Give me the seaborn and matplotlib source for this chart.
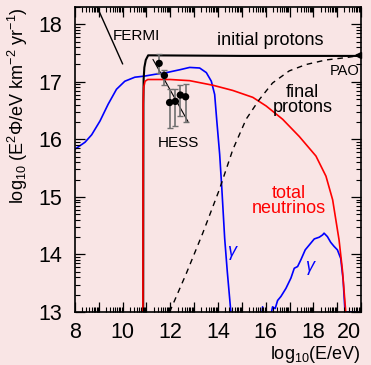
import numpy as np
import seaborn as sns
import matplotlib.pyplot as plt
from matplotlib.collections import LineCollection
from matplotlib.ticker import FixedLocator, FuncFormatter

# ---- data (log10 E/eV , log10 E^2 Phi) ----
gamma_low_x = [8.0, 8.42, 8.70, 9.05, 9.39, 9.74, 10.09, 10.51, 10.93, 11.35, 11.84, 12.40,
               12.81, 13.23, 13.51, 13.72, 13.86, 13.95, 14.07, 14.16, 14.28, 14.39, 14.55,
               14.62]
gamma_low_y = [15.83, 15.95, 16.08, 16.32, 16.61, 16.87, 17.01, 17.08, 17.10, 17.13, 17.16,
               17.21, 17.25, 17.24, 17.16, 17.01, 16.78, 16.32, 15.74, 15.15, 14.28, 13.70,
               12.95, 12.6]

gamma_high_x = [15.80, 15.87, 15.93, 16.22, 16.29, 16.40, 16.50, 16.64, 16.85, 17.06, 17.20,
                17.34, 17.48, 17.66, 17.90, 18.04, 18.25, 18.39, 18.45, 18.59, 18.73,
                18.87, 19.01, 19.15, 19.25, 19.33, 20.0]
gamma_high_y = [12.7, 13.09, 12.95, 12.95, 13.09, 13.06, 13.20, 13.27, 13.41, 13.59, 13.76,
                13.79, 13.91, 14.08, 14.20, 14.27, 14.30, 14.34, 14.37, 14.31, 14.21,
                14.14, 14.08, 13.93, 13.56, 13.0, 13.0]

nu_x = [10.85, 10.86, 10.88, 10.94, 11.05, 12.0, 12.81, 13.79, 14.62, 15.46, 16.02, 16.71,
        17.41, 18.11, 18.53, 18.81, 19.08, 19.22, 19.36, 19.40]
nu_y = [12.5, 16.6, 16.9, 17.01, 17.04, 17.04, 17.02, 16.94, 16.85, 16.73, 16.58, 16.35,
        16.05, 15.71, 15.36, 14.95, 14.25, 13.73, 13.0, 12.6]

p_init_x = [10.86, 10.87, 10.88, 10.91, 10.97, 11.07, 11.2, 15.0, 20.0]
p_init_y = [12.5, 16.64, 17.05, 17.25, 17.38, 17.46, 17.46, 17.45, 17.45]

p_final_x = [11.97, 12.67, 13.36, 14.06, 14.62, 15.18, 15.73, 16.29, 16.99, 17.69, 18.53,
             19.36, 20.0]
p_final_y = [13.0, 13.67, 14.37, 15.13, 15.82, 16.35, 16.69, 16.98, 17.19, 17.30, 17.38,
             17.42, 17.46]

fermi_x = [8.93, 10.0]
fermi_y = [18.30, 17.31]

hess_x = [11.53, 11.75, 11.97, 12.21, 12.42, 12.64]
hess_y = [17.32, 17.11, 16.64, 16.66, 16.77, 16.74]
hess_lo = [17.15, 16.95, 16.20, 16.24, 16.41, 16.30]
hess_hi = [17.48, 17.20, 16.87, 16.88, 16.94, 16.97]
hess_fit_x = [11.27, 12.74]
hess_fit_y = [17.39, 16.31]

pao_x = [19.88]
pao_y = [17.46]

bg = "#f9e5e5"
sns.set_theme(style="ticks")
plt.rcParams.update({
    "font.family": ["Liberation Sans", "DejaVu Sans"],
    "mathtext.fontset": "custom",
    "mathtext.rm": "Liberation Sans",
    "mathtext.it": "Liberation Sans:italic",
    "text.color": "black",
    "axes.labelcolor": "black",
    "xtick.direction": "in",
    "ytick.direction": "in",
})

fig = plt.figure(figsize=(3.71, 3.65), dpi=100, facecolor=bg)
ax = fig.add_axes([75 / 371, 1 - 312 / 365, 286 / 371, 305 / 365])
ax.set_facecolor(bg)

sns.lineplot(x=gamma_low_x, y=gamma_low_y, sort=False, estimator=None, color="#0000ff", lw=1.2, ax=ax)
sns.lineplot(x=gamma_high_x, y=gamma_high_y, sort=False, estimator=None, color="#0000ff", lw=1.2, ax=ax)
sns.lineplot(x=p_init_x, y=p_init_y, sort=False, estimator=None, color="black", lw=1.5, ax=ax)
sns.lineplot(x=nu_x, y=nu_y, sort=False, estimator=None, color="#ff0000", lw=1.2, ax=ax)
sns.lineplot(x=p_final_x, y=p_final_y, sort=False, estimator=None, color="black", lw=1.0,
             ax=ax, linestyle=(0, (4, 3.5)))
sns.lineplot(x=fermi_x, y=fermi_y, sort=False, estimator=None, color="black", lw=1.0, ax=ax)
sns.lineplot(x=hess_fit_x, y=hess_fit_y, sort=False, estimator=None, color="black", lw=0.8, ax=ax)

yerr = [np.array(hess_y) - np.array(hess_lo), np.array(hess_hi) - np.array(hess_y)]
ax.errorbar(hess_x, hess_y, yerr=yerr, fmt="none", ecolor="#707070", elinewidth=1.2,
            capsize=2.5, capthick=1.0)
sns.scatterplot(x=hess_x, y=hess_y, color="black", s=28, edgecolor="none", ax=ax, zorder=5)
ax.plot(pao_x, pao_y, marker="<", color="black", ms=5, ls="none", clip_on=False)

ax.set_xlim(8, 20)
ax.set_ylim(13, 18.3)

ax.set_xlabel(r"log$_{10}$(E/eV)", fontsize=13, loc="right", labelpad=1)
ax.set_ylabel(r"log$_{10}$ (E$^2$$\Phi$/eV km$^{-2}$ yr$^{-1}$)", fontsize=13, loc="top", labelpad=6)

ax.text(9.59, 17.79, "FERMI", fontsize=11, va="center", ha="left")
ax.text(16.2, 17.72, "initial protons", fontsize=13, va="center", ha="center")
ax.text(19.95, 17.19, "PAO", fontsize=10.5, va="center", ha="right")
ax.text(17.54, 16.69, "final\nprotons", fontsize=13, va="center", ha="center", linespacing=0.85)
ax.text(12.32, 15.93, "HESS", fontsize=11, va="center", ha="center")
ax.text(16.99, 14.93, "total\nneutrinos", fontsize=13, va="center", ha="center",
        color="#ff0000", linespacing=0.85)
ax.text(14.62, 14.02, r"$\gamma$", fontsize=13, va="center", ha="center", color="#0000ff")
ax.text(17.9, 13.76, r"$\gamma$", fontsize=13, va="center", ha="center", color="#0000ff")

for s in ax.spines.values():
    s.set_linewidth(1.2)
    s.set_color("black")

# ticks: ROOT-like, log style minor ticks inside on all four sides
def minor_pos(lo, hi):
    return [n + np.log10(k) for n in range(lo, hi) for k in range(2, 10)]

x_major = list(range(8, 21))
y_major = list(range(13, 19))
x_minor = minor_pos(8, 20)
y_minor = minor_pos(13, 19)

ax.xaxis.set_major_locator(FixedLocator(x_major))
ax.yaxis.set_major_locator(FixedLocator(y_major))
ax.xaxis.set_minor_locator(FixedLocator([]))
ax.yaxis.set_minor_locator(FixedLocator([]))
ax.xaxis.set_major_formatter(FuncFormatter(lambda v, p: f"{int(v)}" if int(v) % 2 == 0 else ""))
ax.yaxis.set_major_formatter(FuncFormatter(lambda v, p: f"{int(v)}"))
ax.tick_params(which="both", length=0, colors="black", labelsize=15.5)
ax.tick_params(axis="x", pad=7)
ax.tick_params(axis="y", pad=9)

# tick marks drawn as line segments (lengths as axes fractions: ~10 px major, ~5 px minor)
def x_segments(positions, length):
    segs = []
    for v in positions:
        segs.append([(v, 0), (v, length)])
        segs.append([(v, 1 - length), (v, 1)])
    return segs

def y_segments(positions, length):
    segs = []
    for v in positions:
        segs.append([(0, v), (length, v)])
        segs.append([(1 - length, v), (1, v)])
    return segs

ax.add_collection(LineCollection(x_segments(x_major, 10 / 305), colors="black", linewidths=0.9,
                                 transform=ax.get_xaxis_transform(), clip_on=False, zorder=6))
ax.add_collection(LineCollection(x_segments(x_minor, 5 / 305), colors="black", linewidths=0.8,
                                 transform=ax.get_xaxis_transform(), clip_on=False, zorder=6))
ax.add_collection(LineCollection(y_segments(y_major, 10 / 286), colors="black", linewidths=0.9,
                                 transform=ax.get_yaxis_transform(), clip_on=False, zorder=6))
ax.add_collection(LineCollection(y_segments(y_minor, 5 / 286), colors="black", linewidths=0.8,
                                 transform=ax.get_yaxis_transform(), clip_on=False, zorder=6))
ax.set_xlim(8, 20)
ax.set_ylim(13, 18.3)

fig.canvas.draw()
ax.get_xticklabels()[-1].set_ha("right")
fig.savefig("out.png", dpi=100, facecolor=bg)
